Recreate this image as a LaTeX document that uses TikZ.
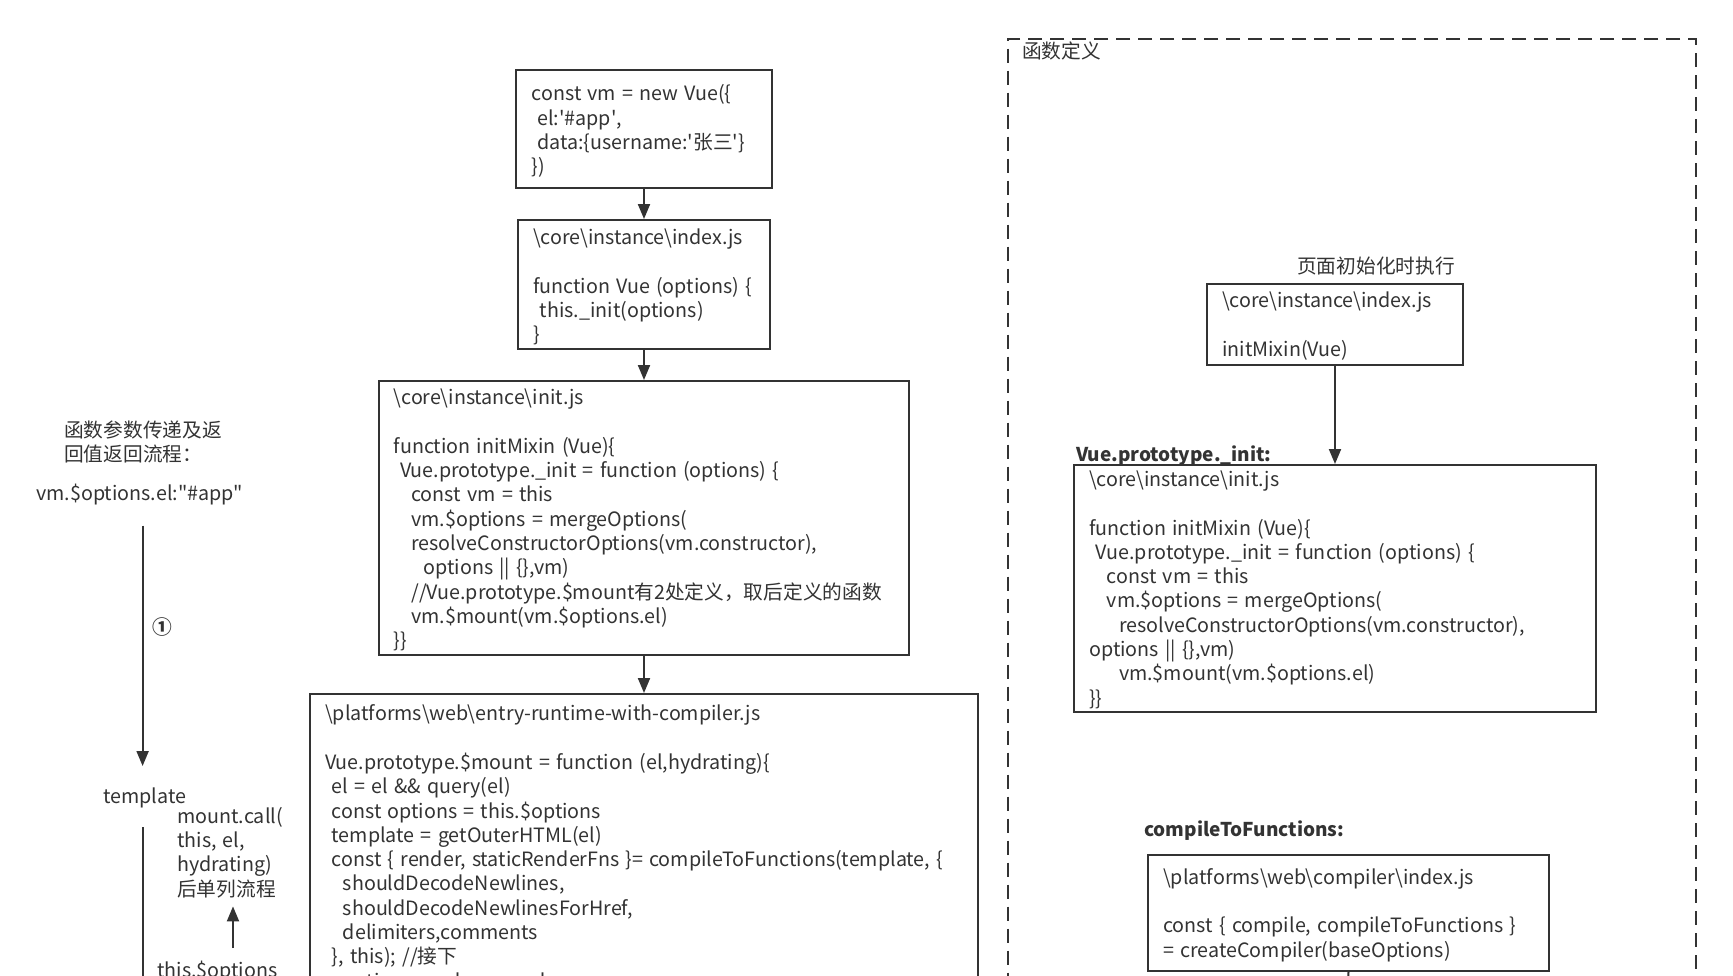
\documentclass[tikz,border=0pt]{standalone}
\usepackage{fontspec}
\setmainfont{Noto Sans CJK SC}
\usetikzlibrary{arrows.meta}
\definecolor{ink}{HTML}{333333}
\definecolor{txt}{HTML}{333333}
\newcommand\mycodefont{\fontsize{19.7}{24.3}\selectfont\spaceskip 6.2pt\relax}
\begin{document}
\begin{tikzpicture}[x=1pt,y=-1pt,
  box/.style={draw=ink, line width=2pt, anchor=north west, inner sep=0pt},
  frame/.style={draw=ink, line width=2pt, anchor=north west, inner sep=0pt, dash pattern=on 14pt off 8pt},
  code/.style={anchor=north west, inner sep=0pt, align=left, text=txt, font=\mycodefont},
  boldlbl/.style={anchor=north west, inner sep=0pt, align=left, text=txt, font=\fontsize{19}{24.3}\selectfont\bfseries},
  lbl/.style={inner sep=0pt, text=txt, font=\fontsize{19.7}{24.3}\selectfont\bfseries},
  arr/.style={draw=ink, line width=2pt, -{Triangle[width=12pt,length=15pt]}},
  ln/.style={draw=ink, line width=2pt}]
\useasboundingbox (0,0) rectangle (1733,975);
\fill[white] (0,0) rectangle (1733,975);
\clip (0,0) rectangle (1733,975);

% ---------- boxes (middle column) ----------
\node[box, minimum width=256pt, minimum height=118.5pt] (b1) at (515,68.5) {};
\node[box, minimum width=252pt, minimum height=129pt] (b2) at (517,219) {};
\node[box, minimum width=530pt, minimum height=274pt] (b3) at (378,380) {};
\node[box, minimum width=668pt, minimum height=400pt] (b4) at (309,693) {};

% ---------- right container ----------
\node[frame, minimum width=688pt, minimum height=1100pt] (frm) at (1007,37.6) {};
\node[box, minimum width=256pt, minimum height=81pt] (r1) at (1206,283) {};
\node[box, minimum width=522pt, minimum height=247pt] (r2) at (1073,464) {};
\node[box, minimum width=401pt, minimum height=116pt] (r3) at (1147,854) {};

% ---------- texts of boxes ----------
\node[code] (t1) at (531.5,83.5) {\strut const vm = new Vue(\{\\
\hspace*{5.5pt}el:\textquotesingle\#app\textquotesingle,\\
\hspace*{5.5pt}data:\{username:\textquotesingle 张三\textquotesingle\}\\
\})};

\node[code] (t2) at (533,227.2) {\strut\textbackslash core\textbackslash instance\textbackslash index.js\\[24.3pt]
function Vue (options) \{\\
\hspace*{6.6pt}this.\_init(options)\\
\}};

\node[code] (t3) at (393.5,387.5) {\strut\textbackslash core\textbackslash instance\textbackslash init.js\\[24.3pt]
function initMixin (Vue)\{\\
\hspace*{6.6pt}Vue.prototype.\_init = function (options) \{\\
\hspace*{17.7pt}const vm = this\\
\hspace*{17.7pt}vm.\$options = mergeOptions(\\
\hspace*{17.7pt}resolveConstructorOptions(vm.constructor),\\
\hspace*{29.8pt}options || \{\},vm)\\
\hspace*{17.7pt}//Vue.prototype.\$mount有2处定义，取后定义的函数\\
\hspace*{17.7pt}vm.\$mount(vm.\$options.el)\\
\}\}};

\node[code] (t4) at (325,703.6) {\strut\textbackslash platforms\textbackslash web\textbackslash entry-runtime-with-compiler.js\\[24.3pt]
Vue.prototype.\$mount = function (el,hydrating)\{\\
\hspace*{6.6pt}el = el \&\& query(el)\\
\hspace*{6.6pt}const options = this.\$options\\
\hspace*{6.6pt}template = getOuterHTML(el)\\
\hspace*{6.6pt}const \{ render, staticRenderFns \}= compileToFunctions(template, \{\\
\hspace*{17.7pt}shouldDecodeNewlines,\\
\hspace*{17.7pt}shouldDecodeNewlinesForHref,\\
\hspace*{17.7pt}delimiters,comments\\
\hspace*{6.6pt}\}, this); //接下\\
\hspace*{17.7pt}options.render = render};

\node[code] (tr1) at (1222,290.2) {\strut\textbackslash core\textbackslash instance\textbackslash index.js\\[24.3pt]
initMixin(Vue)};

\node[code] (tr2) at (1089,469.2) {\strut\textbackslash core\textbackslash instance\textbackslash init.js\\[24.3pt]
function initMixin (Vue)\{\\
\hspace*{6.6pt}Vue.prototype.\_init = function (options) \{\\
\hspace*{17.7pt}const vm = this\\
\hspace*{17.7pt}vm.\$options = mergeOptions(\\
\hspace*{29.8pt}resolveConstructorOptions(vm.constructor),\\
options || \{\},vm)\\
\hspace*{29.8pt}vm.\$mount(vm.\$options.el)\\
\}\}};

\node[code] (tr3) at (1163,867.1) {\strut\textbackslash platforms\textbackslash web\textbackslash compiler\textbackslash index.js\\[24.3pt]
const \{ compile, compileToFunctions \}\\
= createCompiler(baseOptions)};

% ---------- labels ----------
\node[code] (lq) at (64,420) {\strut 函数参数传递及返\\回值返回流程：};
\node[code] (el) at (36,483) {\strut vm.\$options.el:\textquotedbl\#app\textquotedbl};
\node[code] (tmpl) at (103,786) {\strut template};
\node[code] (mc) at (177,806) {\strut mount.call(\\this, el,\\hydrating)\\后单列流程\strut};
\node[code] (thiso) at (157,960) {\strut this.\$options};
\node[lbl] (c1) at (162.5,627) {①};
\node[code] (fd) at (1022,41) {\strut 函数定义};
\node[code] (pinit) at (1297,256) {\strut 页面初始化时执行};
\node[boldlbl] (vpi) at (1076,444) {\strut Vue.prototype.\_init:};
\node[boldlbl] (ctf) at (1144,819) {\strut compileToFunctions:};

% ---------- connectors ----------
\draw[arr] (b1.south) -- (b2.north);
\draw[arr] (b2.south) -- (b3.north);
\draw[arr] (b3.south) -- (b4.north);
\draw[arr] (r1.south) -- (r1.south |- r2.north);
\coordinate (r3end) at (1347.5,1000);
\draw[ln] (r3.south) -- (r3end);

\coordinate (colx) at (142.6,0);
\coordinate (colbot) at (142.6,1000);
\coordinate (upx) at (233,0);
\draw[arr, shorten <=18pt, shorten >=20pt] (el.south -| colx) -- (tmpl.north -| colx);
\draw[ln, shorten <=16.7pt] (tmpl.south -| colx) -- (colbot);
\draw[arr, shorten <=12pt, shorten >=2.8pt] (thiso.north -| upx) -- (mc.south -| upx);
\end{tikzpicture}
\end{document}
